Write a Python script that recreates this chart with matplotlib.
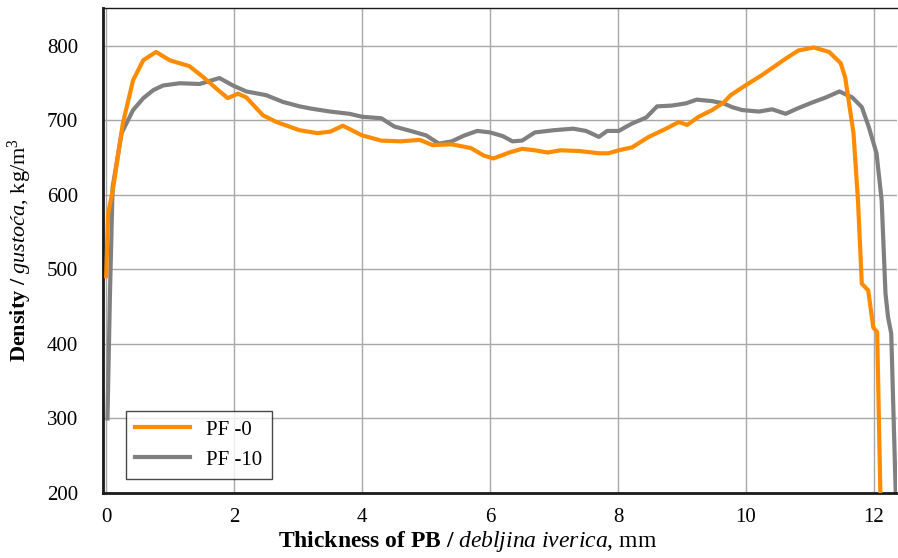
import matplotlib
matplotlib.use("Agg")
import matplotlib.pyplot as plt

plt.rcParams['font.family'] = ['Liberation Serif', 'DejaVu Serif']
plt.rcParams['mathtext.fontset'] = 'custom'
plt.rcParams['mathtext.rm'] = 'Liberation Serif'
plt.rcParams['mathtext.it'] = 'Liberation Serif:italic'
plt.rcParams['mathtext.bf'] = 'Liberation Serif:bold'

# PF-0 series (thickness mm, density kg/m3)
pf0_x = [0.0, 0.03, 0.11, 0.26, 0.42, 0.58, 0.78, 0.99, 1.1, 1.3, 1.52, 1.72, 1.9, 2.06, 2.19,
         2.45, 2.66, 3.02, 3.3, 3.5, 3.7, 4.0, 4.3, 4.6, 4.9, 5.1, 5.4, 5.7, 5.9, 6.05, 6.3,
         6.5, 6.7, 6.9, 7.1, 7.4, 7.7, 7.85, 8.01, 8.22, 8.48, 8.75, 8.95, 9.08, 9.26, 9.47,
         9.65, 9.76, 9.99, 10.25, 10.62, 10.82, 11.06, 11.3, 11.48, 11.55, 11.68, 11.75, 11.81,
         11.91, 11.99, 12.05, 12.1]
pf0_y = [491, 575, 610, 696, 754, 781, 792, 781, 778, 773, 758, 743, 730, 736, 731,
         707, 698, 687, 683, 685, 693, 680, 673, 672, 674, 667, 668, 663, 653, 649, 657,
         662, 660, 657, 660, 659, 656, 656, 660, 664, 678, 689, 698, 694, 705, 714,
         724, 734, 747, 761, 783, 794, 798, 792, 777, 758, 683, 593, 481,
         472, 422, 416, 200]

# PF-10 series
pf10_x = [0.02, 0.06, 0.1, 0.24, 0.42, 0.58, 0.74, 0.89, 1.15, 1.46, 1.77, 1.98, 2.19, 2.5,
          2.76, 3.02, 3.2, 3.5, 3.8, 4.0, 4.3, 4.5, 4.8, 5.0, 5.2, 5.4, 5.6, 5.8, 6.0, 6.2,
          6.35, 6.5, 6.7, 7.0, 7.3, 7.5, 7.7, 7.83, 8.01, 8.22, 8.44, 8.61, 8.84, 9.06, 9.23,
          9.47, 9.65, 9.78, 9.94, 10.2, 10.41, 10.62, 10.8, 11.03, 11.25, 11.46, 11.66, 11.81,
          11.92, 12.04, 12.12, 12.18, 12.22, 12.27, 12.34]
pf10_y = [300, 472, 610, 683, 714, 730, 741, 747, 750, 749, 757, 747, 739, 734,
          725, 719, 716, 712, 709, 705, 703, 692, 685, 680, 669, 672, 680, 686, 684, 679,
          672, 673, 684, 687, 689, 686, 678, 686, 686, 696, 704, 719, 720, 723, 728,
          726, 723, 718, 714, 712, 715, 709, 716, 724, 731, 739, 731, 718,
          691, 656, 593, 468, 436, 414, 200]

series_names = ["PF -0", "PF -10"]
colors = ["#FF8C00", "#808080"]

x_ticks = [0, 2, 4, 6, 8, 10, 12]
y_ticks = [200, 300, 400, 500, 600, 700, 800]

fig = plt.figure(figsize=(8.98, 5.58), dpi=100)
ax = fig.add_axes([103/898, 1 - 493/558, (897 - 103)/898, (493 - 8)/558])

ax.plot(pf0_x, pf0_y, color=colors[0], lw=3, label=series_names[0], zorder=3)
ax.plot(pf10_x, pf10_y, color=colors[1], lw=3, label=series_names[1], zorder=2)

ax.set_xlim(-0.05, 12.36)
ax.set_ylim(200, 851)
ax.set_xticks(x_ticks)
ax.set_yticks(y_ticks)
ax.tick_params(length=0, labelsize=15)
ax.tick_params(axis="x", pad=11)
ax.tick_params(axis="y", pad=18)
ax.grid(True, color="#a8a8a8", lw=1)
ax.set_axisbelow(True)

for s in ["left", "bottom"]:
    ax.spines[s].set_linewidth(2)
    ax.spines[s].set_color("#1a1a1a")
ax.spines["top"].set_linewidth(1)
ax.spines["top"].set_color("#1a1a1a")
ax.spines["right"].set_visible(False)

ax.set_xlabel(r"$\mathbf{Thickness\ of\ PB\ /}\ \mathit{debljina\ iverica}$, mm", fontsize=17)
ax.xaxis.set_label_coords((468 - 103) / 794, -(541 - 493) / 485, transform=ax.transAxes)
ax.xaxis.label.set_va("center")
ax.set_ylabel(r"$\mathbf{Density\ /}\ \mathit{gustoća}$, kg/m$^{3}$", fontsize=16)
ax.yaxis.set_label_coords(-(103 - 20) / 794, (493 - 250) / 485, transform=ax.transAxes)
ax.yaxis.label.set_va("center")

leg = ax.legend(loc="lower left", bbox_to_anchor=((126 - 103) / 794, (493 - 479) / 485),
                borderaxespad=0, fontsize=15, frameon=True,
                fancybox=False, edgecolor="#1a1a1a", handlelength=2.6, borderpad=0.45,
                labelspacing=0.5, handletextpad=0.8)
leg.get_frame().set_linewidth(1)

fig.savefig("out.png", dpi=100)
